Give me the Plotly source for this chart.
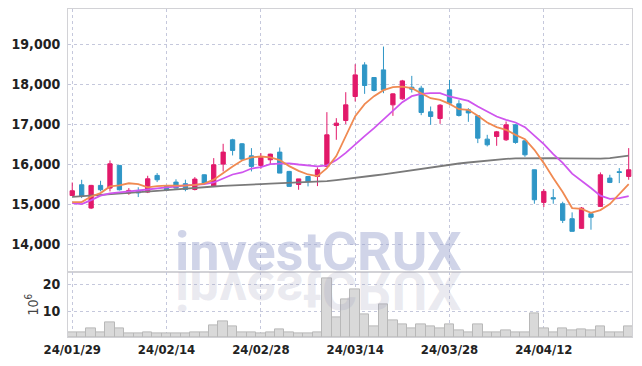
import plotly.graph_objects as go

dates = ["24/01/29", "24/01/30", "24/01/31", "24/02/01", "24/02/02", "24/02/05", "24/02/06", "24/02/07",
         "24/02/08", "24/02/13", "24/02/14", "24/02/15", "24/02/16", "24/02/19", "24/02/20", "24/02/21",
         "24/02/22", "24/02/23", "24/02/26", "24/02/27", "24/02/28", "24/02/29", "24/03/04", "24/03/05",
         "24/03/06", "24/03/07", "24/03/08", "24/03/11", "24/03/12", "24/03/13", "24/03/14", "24/03/15",
         "24/03/18", "24/03/19", "24/03/20", "24/03/21", "24/03/22", "24/03/25", "24/03/26", "24/03/27",
         "24/03/28", "24/03/29", "24/04/01", "24/04/02", "24/04/03", "24/04/04", "24/04/05", "24/04/08",
         "24/04/09", "24/04/11", "24/04/12", "24/04/15", "24/04/16", "24/04/17", "24/04/18", "24/04/19",
         "24/04/22", "24/04/23", "24/04/24", "24/04/25"]

open_ = [15215, 15483, 14900, 15467, 15400, 15967, 15275, 15342, 15300, 15717,
         15450, 15550, 15510, 15365, 15733, 15442, 16000, 16608, 16508, 16208,
         15967, 16108, 16300, 15817, 15490, 15690, 15692, 15942, 16967, 17092,
         17692, 18483, 18167, 18358, 17483, 17633, 17925, 17900, 17308, 17142,
         17858, 17508, 17358, 17208, 16625, 16692, 16608, 16983, 16583, 15858,
         15042, 15160, 15008, 14633, 14392, 14758, 14942, 15650, 15810, 15692]
high = [15540, 15608, 15480, 15583, 16092, 15975, 15400, 15420, 15708, 15775,
        15480, 15620, 15610, 15675, 15740, 16150, 16508, 16633, 16525, 16400,
        16275, 16260, 16417, 15830, 15630, 15700, 15917, 17300, 17150, 17800,
        18500, 18550, 18180, 18942, 17770, 18108, 18208, 17960, 17442, 17500,
        18108, 17600, 17400, 17208, 16733, 16830, 17067, 17000, 16590, 15860,
        15375, 15375, 15058, 14792, 14925, 14780, 15792, 15733, 15900, 16400]
low = [15200, 15150, 14875, 15317, 15317, 15340, 15233, 15175, 15275, 15550,
       15330, 15390, 15320, 15342, 15480, 15425, 15817, 16217, 16092, 15817,
       15883, 15983, 15775, 15442, 15358, 15442, 15450, 15930, 16608, 17000,
       17567, 17758, 17820, 17775, 17208, 17610, 17792, 17225, 16983, 17008,
       17480, 17190, 17058, 16525, 16442, 16458, 16580, 16510, 16183, 15008,
       14925, 15008, 14525, 14317, 14380, 14358, 14930, 15525, 15525, 15608]
close = [15333, 15192, 15467, 15358, 16008, 15358, 15342, 15280, 15633, 15608,
         15350, 15400, 15365, 15625, 15525, 15983, 16300, 16342, 16125, 15942,
         16167, 16250, 15775, 15442, 15630, 15560, 15858, 16733, 17025, 17483,
         18233, 17967, 17842, 17858, 17758, 18083, 17875, 17292, 17192, 17475,
         17525, 17217, 17280, 16650, 16483, 16808, 16983, 16542, 16233, 15108,
         15317, 15130, 14592, 14317, 14900, 14670, 15733, 15542, 15790, 15858]

volume_m = [2.2, 1.9, 3.7, 1.9, 5.6, 3.4, 1.5, 1.5, 2.2, 1.5,
            1.5, 1.5, 1.5, 1.9, 1.9, 4.6, 6.0, 4.1, 2.2, 1.9,
            1.5, 1.9, 3.0, 2.2, 1.5, 1.5, 1.9, 22.4, 7.8, 14.3,
            18.3, 8.6, 4.1, 12.7, 6.7, 5.2, 3.7, 4.9, 4.2, 3.7,
            4.9, 2.6, 2.2, 4.9, 2.2, 2.2, 2.6, 2.2, 2.2, 9.0,
            3.4, 1.9, 3.7, 2.6, 3.0, 2.6, 4.1, 2.2, 2.2, 4.1]

ma_short = [15050, 15050, 15190, 15275, 15440, 15470, 15520, 15500, 15420, 15450,
            15460, 15460, 15460, 15480, 15510, 15610, 15780, 15940, 16090, 16170,
            16190, 16170, 16100, 15950, 15830, 15740, 15700, 15900, 16200, 16700,
            17200, 17500, 17700, 17850, 17925, 17940, 17900, 17775, 17650, 17608,
            17508, 17375, 17358, 17208, 17042, 16925, 16858, 16733, 16625, 16358,
            16025, 15650, 15300, 14900, 14880, 14780, 14850, 15000, 15250, 15500]
ma_mid = [15025, 15000, 15100, 15210, 15270, 15300, 15320, 15340, 15370, 15400,
          15420, 15440, 15470, 15480, 15500, 15540, 15650, 15740, 15790, 15890,
          15925, 16000, 16010, 16020, 15990, 15960, 15945, 15970, 16100, 16280,
          16500, 16700, 16900, 17120, 17350, 17550, 17700, 17758, 17775, 17775,
          17692, 17633, 17583, 17442, 17317, 17192, 17108, 17042, 16925, 16720,
          16500, 16250, 16030, 15760, 15590, 15400, 15210, 15130, 15150, 15200]
ma_long = [15180, 15195, 15210, 15225, 15245, 15260, 15275, 15295, 15310, 15330,
           15350, 15370, 15395, 15410, 15425, 15440, 15455, 15470, 15480, 15490,
           15500, 15510, 15520, 15530, 15545, 15555, 15565, 15575, 15600, 15625,
           15655, 15685, 15715, 15745, 15780, 15810, 15845, 15880, 15915, 15950,
           15990, 16015, 16040, 16065, 16090, 16110, 16130, 16145, 16150, 16155,
           16155, 16150, 16145, 16140, 16135, 16133, 16135, 16150, 16175, 16210]

tick_dates = ["24/01/29", "24/02/14", "24/02/28", "24/03/14", "24/03/28", "24/04/12"]
price_ticks = [14000, 15000, 16000, 17000, 18000, 19000]
volume_ticks = [10, 20]

RED = "#e2196a"
BLUE = "#2f96c6"
GRID = "#c5c8dc"
FRAME = "#d2d2d6"
NARROW = "DejaVu Sans Condensed, Liberation Sans Narrow, Roboto Condensed, Arial Narrow, sans-serif"
TICKFONT = dict(family=NARROW, size=14, color="#222222", weight="bold")
DATEFONT = dict(family=NARROW, size=13, color="#222222", weight="bold")

fig = go.Figure()

fig.add_trace(go.Bar(
    x=dates, y=volume_m, xaxis="x2", yaxis="y2", width=1.0,
    marker=dict(color="#d9d9d9", line=dict(color="#b8b8b8", width=1)),
    showlegend=False, hoverinfo="skip"))

fig.add_trace(go.Candlestick(
    x=dates, open=open_, high=high, low=low, close=close, xaxis="x", yaxis="y",
    increasing=dict(fillcolor=RED, line=dict(color=RED, width=1)),
    decreasing=dict(fillcolor=BLUE, line=dict(color=BLUE, width=1)),
    whiskerwidth=0, showlegend=False))

fig.add_trace(go.Scatter(x=dates, y=ma_long, mode="lines", xaxis="x", yaxis="y",
                         line=dict(color="#7a7a7a", width=1.8), showlegend=False, hoverinfo="skip"))
fig.add_trace(go.Scatter(x=dates, y=ma_mid, mode="lines", xaxis="x", yaxis="y",
                         line=dict(color="#cf55ee", width=1.8), showlegend=False, hoverinfo="skip"))
fig.add_trace(go.Scatter(x=dates, y=ma_short, mode="lines", xaxis="x", yaxis="y",
                         line=dict(color="#f08a52", width=1.8), showlegend=False, hoverinfo="skip"))

common_x = dict(type="category", range=[-0.45, 59.35], tickvals=tick_dates, ticktext=tick_dates,
                showgrid=True, gridcolor=GRID, griddash="dot", gridwidth=1, automargin=False,
                showline=True, mirror=True, linecolor=FRAME, linewidth=1, zeroline=False, ticks="")
common_y = dict(showgrid=True, gridcolor=GRID, griddash="dot", showline=True, mirror=True,
                linecolor=FRAME, zeroline=False, ticks="", tickfont=TICKFONT,
                ticklabelstandoff=4, automargin=False)

fig.update_layout(
    width=642, height=366,
    margin=dict(l=68, r=10, t=9, b=29),
    paper_bgcolor="white", plot_bgcolor="white",
    boxgap=0.35, bargap=0,
    showlegend=False,
    xaxis=dict(common_x, domain=[0, 1], anchor="y", showticklabels=False,
               rangeslider=dict(visible=False)),
    xaxis2=dict(common_x, domain=[0, 1], anchor="y2", matches="x", showticklabels=True,
                tickfont=DATEFONT),
    yaxis=dict(common_y, domain=[0.197, 1], range=[13290, 19882], tickvals=price_ticks,
               tickformat=",d"),
    yaxis2=dict(common_y, domain=[0, 0.197], range=[0.3, 24.5], tickvals=volume_ticks,
                title=dict(text="10<sup>6</sup>", standoff=0,
                           font=dict(family=NARROW, size=14, color="#444444"))),
    annotations=[
        dict(text="investCRUX", xref="paper", yref="paper", x=0.444, y=0.262,
             xanchor="center", yanchor="middle", showarrow=False,
             font=dict(family="Roboto, sans-serif", size=54, weight="bold", color="rgba(150,160,205,0.45)")),
        dict(text="investCRUX", xref="paper", yref="paper", x=0.444, y=0.142,
             xanchor="center", yanchor="middle", showarrow=False,
             font=dict(family="Roboto, sans-serif", size=54, weight="bold", color="rgba(160,160,190,0.22)")),
    ],
)

post = """
document.body.style.margin = '0';
document.body.style.padding = '0';
var gd = document.getElementById('{plot_id}');
function flipRefl(){
  var g = gd.querySelector('.annotation[data-index="1"] text');
  if(g){ g.style.transformBox='fill-box'; g.style.transformOrigin='center'; g.style.transform='scaleY(-1)'; }
}
flipRefl();
gd.on && gd.on('plotly_afterplot', flipRefl);
"""

fig.write_html("out.html", post_script=post, config={"displayModeBar": False})
